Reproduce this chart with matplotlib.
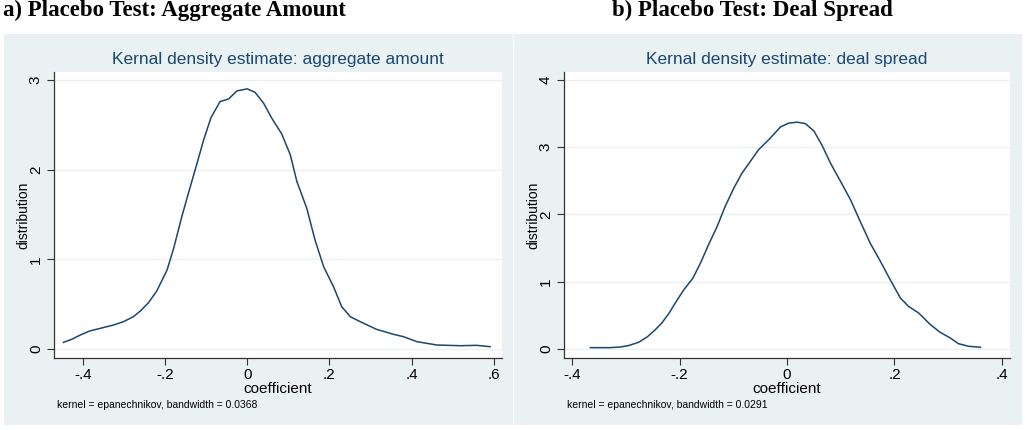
import numpy as np
import matplotlib
matplotlib.use('Agg')
import matplotlib.pyplot as plt
from matplotlib.patches import Rectangle

# ---- data ----
amt_x = [-0.447, -0.427, -0.406, -0.384, -0.358, -0.325, -0.301, -0.277, -0.260, -0.240,
         -0.220, -0.195, -0.179, -0.159, -0.143, -0.122, -0.106, -0.088, -0.066, -0.045,
         -0.025, 0.000, 0.019, 0.040, 0.060, 0.084, 0.105, 0.121, 0.145, 0.165,
         0.186, 0.210, 0.230, 0.251, 0.275, 0.315, 0.356, 0.380, 0.413, 0.461,
         0.518, 0.559, 0.591]
amt_y = [0.074, 0.108, 0.156, 0.200, 0.230, 0.268, 0.305, 0.360, 0.424, 0.517,
         0.647, 0.880, 1.120, 1.476, 1.736, 2.070, 2.330, 2.580, 2.758, 2.788,
         2.877, 2.900, 2.862, 2.740, 2.572, 2.398, 2.164, 1.866, 1.569, 1.216,
         0.918, 0.695, 0.472, 0.360, 0.305, 0.219, 0.164, 0.138, 0.082, 0.045,
         0.037, 0.041, 0.026]

spr_x = [-0.366, -0.329, -0.310, -0.295, -0.276, -0.260, -0.245, -0.233, -0.220, -0.208,
         -0.192, -0.175, -0.161, -0.146, -0.130, -0.115, -0.099, -0.084, -0.068, -0.053,
         -0.034, -0.012, 0.003, 0.019, 0.034, 0.050, 0.065, 0.081, 0.099, 0.118,
         0.136, 0.155, 0.174, 0.192, 0.211, 0.226, 0.245, 0.267, 0.285, 0.304,
         0.319, 0.338, 0.360]
spr_y = [0.020, 0.020, 0.030, 0.050, 0.100, 0.180, 0.287, 0.386, 0.525, 0.683,
         0.880, 1.054, 1.277, 1.550, 1.820, 2.120, 2.390, 2.610, 2.790, 2.960,
         3.110, 3.300, 3.356, 3.370, 3.350, 3.240, 3.030, 2.760, 2.500, 2.220,
         1.900, 1.570, 1.300, 1.030, 0.757, 0.634, 0.535, 0.361, 0.248, 0.163,
         0.079, 0.040, 0.025]

amt_xticks = [-0.4, -0.2, 0, 0.2, 0.4, 0.6]
amt_xlabels = ['-.4', '-.2', '0', '.2', '.4', '.6']
amt_yticks = [0, 1, 2, 3]
spr_xticks = [-0.4, -0.2, 0, 0.2, 0.4]
spr_xlabels = ['-.4', '-.2', '0', '.2', '.4']
spr_yticks = [0, 1, 2, 3, 4]

W, H = 1025, 430
BG = '#e9f1f3'
NAVY = '#1a476f'

plt.rcParams['font.family'] = ['Liberation Sans', 'DejaVu Sans']

fig = plt.figure(figsize=(W / 100, H / 100), dpi=100)
fig.patch.set_facecolor('white')


def frac(x0, y0, x1, y1):
    # pixel box (top-left origin) -> figure fraction [left, bottom, width, height]
    return [x0 / W, 1 - y1 / H, (x1 - x0) / W, (y1 - y0) / H]


def panel(bg_box, ax_box, xs, ys, xlim, ylim, xticks, xlabels, yticks, title, note, heading, head_x):
    l, b, w, h = frac(*bg_box)
    fig.patches.append(Rectangle((l, b), w, h, transform=fig.transFigure,
                                 facecolor=BG, edgecolor='none', zorder=-10))
    ax = fig.add_axes(frac(*ax_box))
    ax.set_zorder(1)
    ax.set_facecolor('white')
    ax.plot(xs, ys, color=NAVY, lw=1.1, zorder=3)
    ax.set_xlim(*xlim)
    ax.set_ylim(*ylim)
    ax.set_xticks(xticks)
    ax.set_xticklabels(xlabels, fontsize=11)
    ax.set_yticks(yticks)
    ax.set_yticklabels([str(t) for t in yticks], fontsize=11, rotation=90, va='center')
    ax.grid(axis='y', color=BG, lw=1.0, zorder=1)
    ax.set_axisbelow(True)
    for s in ['top', 'right']:
        ax.spines[s].set_visible(False)
    for s in ['left', 'bottom']:
        ax.spines[s].set_color('#333333')
        ax.spines[s].set_linewidth(0.9)
    ax.tick_params(direction='out', length=5, width=0.8, color='#333333')
    ax.tick_params(axis='x', pad=2)
    ax.tick_params(axis='y', pad=3)
    ax.set_xlabel('coefficient', fontsize=11, labelpad=0)
    ax.set_ylabel('distribution', fontsize=10, labelpad=-1)
    ax.set_title(title, fontsize=12.5, color=NAVY, pad=6)
    x0 = ax_box[0]
    fig.text((x0 + 3) / W, 1 - 405 / H, note, fontsize=7.5, va='center', ha='left', zorder=2)
    fig.text(head_x / W, 1 - 16 / H, heading, fontsize=16.5, fontweight='bold',
             family='Liberation Serif', va='baseline', ha='left', zorder=2)
    return ax


panel((4, 34, 513, 425), (54, 72, 502, 358), amt_x, amt_y,
      (-0.47, 0.62), (-0.1, 3.088), amt_xticks, amt_xlabels, amt_yticks,
      'Kernal density estimate: aggregate amount',
      'kernel = epanechnikov, bandwidth = 0.0368',
      'a) Placebo Test: Aggregate Amount', 3)

panel((513.5, 34, 1022, 425), (564, 72, 1010, 358), spr_x, spr_y,
      (-0.415, 0.415), (-0.134, 4.116), spr_xticks, spr_xlabels, spr_yticks,
      'Kernal density estimate: deal spread',
      'kernel = epanechnikov, bandwidth = 0.0291',
      'b) Placebo Test: Deal Spread', 612)

fig.savefig('out.png', dpi=100, facecolor='white')
